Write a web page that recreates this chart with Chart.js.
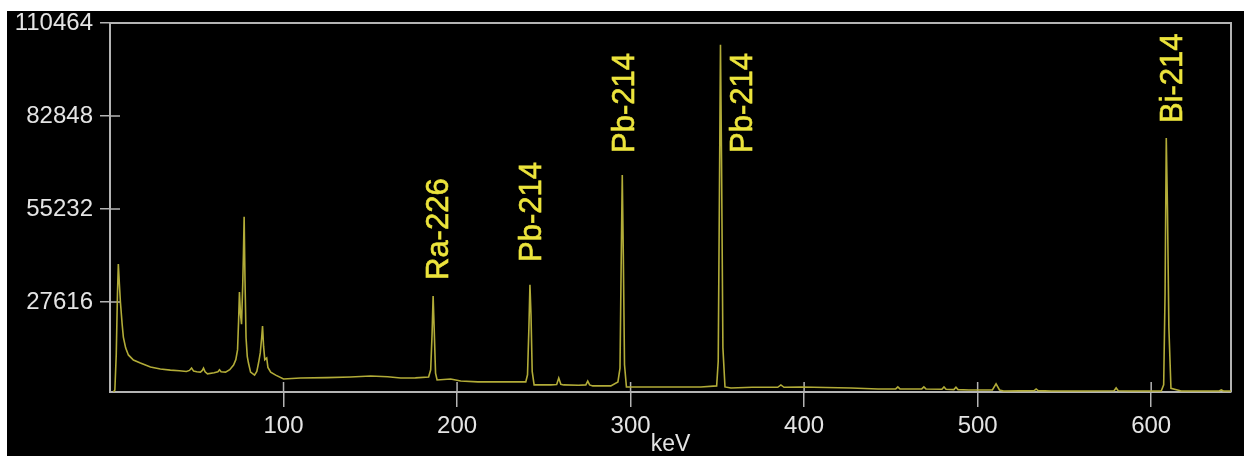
<!DOCTYPE html>
<html><head><meta charset="utf-8">
<script src="https://cdn.jsdelivr.net/npm/chart.js@4"></script>
<style>
html,body{margin:0;padding:0;background:#fff;width:1244px;height:456px;overflow:hidden}
#wrap{position:absolute;left:7px;top:11px;width:1237px;height:445px;background:#000}
canvas{display:block}
</style></head><body>
<div id="wrap"><canvas id="c" width="1237" height="445"></canvas></div>
<script>
// ---- data ----
const spectrumKeV = [
 2.0, 2.8, 3.6, 4.3, 4.8, 5.4, 6.0, 7.0, 7.7, 9.0, 10.6, 13.5, 17.5, 23.3, 29, 34.8, 40, 44, 45.8, 47.0,
 48.2, 50, 52.1, 53.2, 53.9, 54.8, 56.2, 60, 62.2, 63.1, 64.0, 66.6, 69, 71.2, 72.5, 73.5, 74.1, 74.6, 75.2, 75.8,
 76.5, 76.9, 77.3, 77.8, 78.4, 79.1, 79.8, 81.0, 83.3, 84.6, 85.6, 86.6, 87.4, 87.9, 88.5, 89.2, 89.8, 90.3, 91.0, 92.6,
 95.5, 100, 109.8, 125, 138.6, 150.2, 160, 167.5, 176, 183.6, 184.8, 185.6, 186.2, 186.8, 187.6, 188.5, 196.3, 202.1, 212, 225.2,
 239.6, 240.6, 241.4, 242.0, 242.6, 243.3, 244.4, 254, 257.4, 258.6, 259.8, 261.5, 270, 274.2, 275.3, 276.4, 278.2, 288.6, 292.7, 293.9,
 294.6, 295.2, 295.8, 296.5, 297.6, 306, 311.7, 330, 340.5, 349.6, 350.5, 351.2, 351.8, 352.4, 353.2, 354.4, 357.8, 370, 384.8, 386.6,
 388.4, 398.2, 427, 442.6, 452.8, 454, 455.2, 461.6, 467.8, 469, 470.2, 479.4, 480.6, 481.8, 486.3, 487.5, 488.7, 495, 508.5, 510.6,
 512.6, 515, 532.6, 533.7, 534.8, 542.4, 560, 578.6, 579.8, 581, 588.5, 605.8, 607.2, 608.0, 608.7, 609.4, 610.2, 611.4, 617.3, 628.8,
 639.2, 640.4, 641.6, 646
];
const spectrumCounts = [
 900, 1500, 12000, 30000, 38900, 33000, 27600, 21000, 17200, 14000, 11900, 10400, 9500, 8300, 7700, 7400, 7200, 7000, 7300, 8000,
 7100, 6900, 6800, 7300, 8000, 6900, 6300, 6600, 6900, 7500, 6900, 6800, 7500, 8900, 10500, 13400, 22000, 30600, 24000, 21000,
 33000, 42000, 52900, 34000, 17000, 11500, 9500, 6800, 5900, 7000, 9500, 12500, 17000, 20500, 14500, 10500, 10800, 11000, 8200, 6800,
 5900, 4750, 5050, 5150, 5350, 5650, 5400, 5050, 5100, 5350, 7500, 18000, 29400, 20000, 6500, 4450, 4750, 4150, 3900, 3900,
 3900, 6000, 20000, 32700, 24000, 7000, 3000, 3000, 3100, 5050, 3200, 3000, 2900, 3000, 4150, 3000, 2700, 2700, 3900, 8000,
 40000, 65300, 42000, 9000, 2400, 2400, 2400, 2400, 2400, 2700, 10000, 60000, 104000, 70000, 14000, 2400, 2100, 2300, 2300, 3000,
 2300, 2400, 2100, 1800, 1800, 2400, 1800, 1800, 1800, 2400, 1800, 1700, 2400, 1700, 1600, 2300, 1600, 1500, 1500, 3300,
 1500, 1200, 1300, 1800, 1300, 1200, 1200, 1250, 2100, 1250, 1200, 1200, 3000, 30000, 76300, 55000, 20000, 2000, 1200, 1200,
 1200, 1500, 1200, 1200
];
const xTicks = [100, 200, 300, 400, 500, 600];
const yTicks = [27616, 55232, 82848, 110464];
const peakLabels = ['Ra-226', 'Pb-214', 'Pb-214', 'Pb-214', 'Bi-214'];
const peakLabelKeV = [190, 243.6, 297.2, 365.3, 612.7];
const peakLabelCounts = [34150, 39490, 71850, 71850, 80760];

// ---- styles ----
const AXIS_COLOR = '#b4b4b4';
const TEXT_COLOR = '#e4e4e4';
const FONT = '"Liberation Sans", Arial, sans-serif';

const frame = {
  id: 'frame',
  beforeDatasetsDraw(chart) {
    const {ctx, chartArea: a, scales: {x, y}} = chart;
    ctx.save();
    ctx.strokeStyle = AXIS_COLOR;
    ctx.lineWidth = 2;
    ctx.beginPath();
    ctx.moveTo(a.left, a.top); ctx.lineTo(a.right, a.top); ctx.lineTo(a.right, a.bottom);
    ctx.stroke();
    ctx.lineWidth = 1.5;
    ctx.beginPath();
    xTicks.forEach(v => { const p = x.getPixelForValue(v); ctx.moveTo(p, a.bottom); ctx.lineTo(p, a.bottom - 10); });
    yTicks.forEach(v => { const p = y.getPixelForValue(v); ctx.moveTo(a.left, p); ctx.lineTo(a.left + 10, p); });
    ctx.stroke();
    ctx.restore();
  },
  afterDatasetsDraw(chart) {
    const {ctx, scales: {x, y}} = chart;
    ctx.save();
    ctx.fillStyle = '#ece43c';
    ctx.strokeStyle = '#ece43c';
    ctx.lineWidth = 0.6;
    ctx.font = '31px ' + FONT;
    ctx.textAlign = 'left';
    ctx.textBaseline = 'middle';
    peakLabels.forEach((t, i) => {
      ctx.save();
      ctx.translate(x.getPixelForValue(peakLabelKeV[i]), y.getPixelForValue(peakLabelCounts[i]));
      ctx.rotate(-Math.PI / 2);
      ctx.fillText(t, 0, 0);
      ctx.strokeText(t, 0, 0);
      ctx.restore();
    });
    ctx.restore();
  }
};

new Chart(document.getElementById('c'), {
  type: 'line',
  data: {
    datasets: [{
      data: spectrumKeV.map((k, i) => ({x: k, y: spectrumCounts[i]})),
      borderColor: 'rgb(178,172,56)',
      borderWidth: 1.6,
      pointRadius: 0,
      fill: false,
      tension: 0
    }]
  },
  options: {
    responsive: false,
    animation: false,
    devicePixelRatio: 1,
    layout: {padding: {top: 12, right: 13, left: 0, bottom: 0}},
    plugins: {legend: {display: false}, tooltip: {enabled: false}},
    scales: {
      x: {
        type: 'linear', min: 0, max: 646,
        afterBuildTicks: s => { s.ticks = xTicks.map(v => ({value: v})); },
        afterFit: s => { s.height = 64; s.paddingLeft = 0; s.paddingRight = 0; },
        ticks: {color: TEXT_COLOR, font: {family: FONT, size: 24}, padding: 5, maxRotation: 0, autoSkip: false,
                callback: v => String(v)},
        grid: {display: true, drawOnChartArea: false, drawTicks: true, tickLength: 15, color: AXIS_COLOR, lineWidth: 1.5},
        border: {display: true, color: AXIS_COLOR, width: 2},
        title: {display: true, text: 'keV', color: TEXT_COLOR, font: {family: FONT, size: 23}, padding: {top: 0, bottom: -2}}
      },
      y: {
        type: 'linear', min: 894, max: 110464,
        afterBuildTicks: s => { s.ticks = yTicks.map(v => ({value: v})); },
        afterFit: s => { s.width = 103; s.paddingTop = 0; s.paddingBottom = 0; },
        ticks: {color: TEXT_COLOR, font: {family: FONT, size: 24}, padding: 7, autoSkip: false,
                callback: v => String(v)},
        grid: {display: true, drawOnChartArea: false, drawTicks: true, tickLength: 10, color: AXIS_COLOR, lineWidth: 1.5},
        border: {display: true, color: AXIS_COLOR, width: 2}
      }
    }
  },
  plugins: [frame]
});
</script>
</body></html>
